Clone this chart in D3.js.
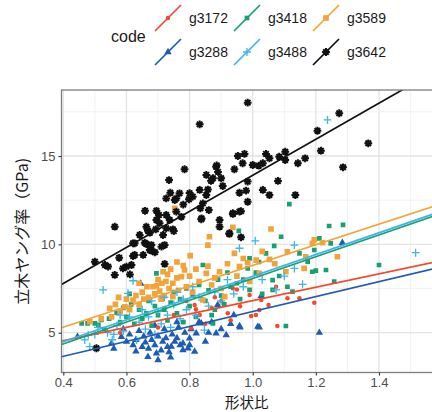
<!DOCTYPE html>
<html lang="ja">
<head>
<meta charset="UTF-8">
<script src="https://cdn.jsdelivr.net/npm/d3@7"></script>
<style>
  body { margin: 0; background: #fff; }
  svg { display: block; font-family: "Liberation Sans", Arial, sans-serif; }
</style>
</head>
<body>
<svg id="chart" width="432" height="412"></svg>
<script>
// groups, in legend order (row by row)
const codes = ["g3172", "g3418", "g3589", "g3288", "g3488", "g3642"];
const colors = ["#f24a2c", "#17a173", "#f2a33a", "#1d5bb5", "#3db5e8", "#111111"];
const shapes = ["circle", "square", "bigsquare", "triangle", "plus", "asterisk"];

// lm fits: y = a + b * x
const fitIntercept = [3.03, 1.90, 2.98, 1.97, 2.03, 3.71];
const fitSlope = [3.79, 6.17, 5.83, 4.23, 6.16, 10.2];

const xTicks = [0.4, 0.6, 0.8, 1.0, 1.2, 1.4];
const yTicks = [5, 10, 15];

// points [形状比, 立木ヤング率]
const ptsG3172 = [[0.58,5.0],[0.65,5.8],[0.70,5.3],[0.75,6.0],[0.78,5.6],[0.805,5.25],[0.816,6.57],[0.82,6.32],
  [0.832,6.0],[0.85,5.5],[0.87,6.4],[0.90,6.8],[0.921,6.1],[0.937,7.51],[0.95,7.45],[0.96,6.5],[0.99,7.13],
  [0.995,5.94],[1.01,6.0],[1.021,6.28],[1.027,6.85],[1.05,6.57],[1.074,7.6],[1.078,5.38],[1.11,6.95],
  [1.148,6.95],[1.195,6.7],[0.88,7.0],[0.72,6.4],[0.79,6.8],[0.93,5.7]];
const ptsG3418 = [[0.458,5.53],[0.477,5.53],[0.50,5.53],[0.511,5.44],[0.521,5.72],[0.53,5.2],[0.545,5.8],[0.569,6.13],
  [0.58,5.6],[0.59,6.4],[0.60,5.9],[0.615,6.6],[0.625,5.5],[0.64,6.3],[0.65,5.8],[0.663,6.1],[0.67,6.8],[0.68,5.4],
  [0.69,6.5],[0.695,8.36],[0.70,6.0],[0.71,7.0],[0.72,6.3],[0.73,5.7],[0.74,6.7],[0.75,7.3],[0.76,6.1],[0.77,6.9],
  [0.78,5.6],[0.79,7.5],[0.80,6.5],[0.81,7.1],[0.82,5.9],[0.83,7.7],[0.842,8.83],[0.85,6.8],[0.86,7.4],[0.874,5.53],
  [0.88,6.3],[0.89,8.0],[0.90,7.1],[0.91,6.6],[0.92,8.4],[0.93,7.6],[0.956,10.76],[0.96,6.9],[0.97,8.0],[0.984,8.64],
  [0.99,9.21],[0.99,7.42],[1.01,8.4],[1.03,7.2],[1.042,9.49],[1.053,14.87],[1.063,7.98],[1.063,7.42],[1.068,9.91],
  [1.084,8.21],[1.09,10.43],[1.105,5.38],[1.11,7.6],[1.126,7.32],[1.116,12.28],[1.148,9.49],[1.174,9.02],[1.189,8.45],
  [1.195,9.68],[1.2,8.51],[1.211,10.34],[1.232,8.55],[1.242,11.04],[1.247,10.06],[1.258,7.89],[1.286,11.1],[1.4,8.83],
  [0.61,7.2],[0.87,6.0],[0.95,7.8],[1.02,9.0]];
const ptsG3589 = [[0.484,5.62],[0.547,6.38],[0.553,5.9],[0.565,6.6],[0.58,6.2],[0.595,6.47],[0.60,6.9],[0.61,6.3],
  [0.621,6.85],[0.63,7.1],[0.64,6.6],[0.65,7.3],[0.655,6.9],[0.665,7.6],[0.67,7.0],[0.684,7.6],[0.69,7.2],[0.695,7.65],
  [0.70,8.0],[0.705,7.35],[0.712,7.8],[0.716,8.45],[0.72,7.1],[0.725,7.9],[0.73,8.3],[0.735,7.5],[0.74,8.6],[0.747,7.8],
  [0.747,7.04],[0.753,12.04],[0.76,8.1],[0.765,7.4],[0.774,8.17],[0.78,8.8],[0.784,8.55],[0.79,7.6],[0.80,8.2],
  [0.802,9.36],[0.81,7.3],[0.82,8.6],[0.83,7.9],[0.842,6.85],[0.853,8.36],[0.858,8.77],[0.858,9.96],[0.863,10.43],
  [0.87,7.7],[0.88,8.1],[0.895,8.45],[0.90,7.5],[0.911,7.04],[0.92,8.9],[0.937,10.96],[0.942,9.49],[0.95,8.2],
  [0.958,8.74],[0.97,9.2],[0.984,8.96],[0.99,7.9],[1.011,9.11],[1.021,8.36],[1.03,9.6],[1.053,9.15],[1.058,10.87],
  [1.07,8.9],[1.105,8.45],[1.11,9.58],[1.163,8.64],[1.168,9.3],[1.189,10.06],[1.195,10.25],[1.221,10.09],[1.268,9.3],
  [0.52,5.8],[0.575,7.0],[0.64,7.8],[0.71,6.9],[0.76,9.0]];
const ptsG3288 = [[0.445,4.77],[0.553,4.4],[0.56,4.1],[0.584,4.77],[0.60,4.5],[0.61,4.9],[0.621,4.3],[0.63,4.6],
  [0.645,7.78],[0.65,4.2],[0.655,4.8],[0.66,4.45],[0.668,3.64],[0.67,4.1],[0.675,5.0],[0.68,4.6],[0.69,4.3],
  [0.695,3.83],[0.70,3.45],[0.70,4.8],[0.71,4.0],[0.715,4.5],[0.72,5.2],[0.725,4.7],[0.73,4.2],[0.735,3.9],
  [0.742,4.21],[0.745,4.9],[0.753,4.49],[0.76,4.7],[0.765,5.3],[0.77,4.3],[0.779,4.4],[0.779,4.02],[0.785,5.0],
  [0.795,4.12],[0.80,4.68],[0.805,5.2],[0.816,3.93],[0.821,4.96],[0.83,5.6],[0.837,5.53],[0.85,4.5],[0.86,5.0],
  [0.87,5.6],[0.884,4.96],[0.889,6.57],[0.90,5.2],[0.916,4.87],[0.93,5.5],[0.94,6.0],[0.958,5.38],[0.96,5.3],
  [1.016,5.34],[1.021,5.3],[1.027,7.08],[1.211,5.0],[1.284,10.09],[0.59,5.2],[0.64,5.1],[0.76,5.6],[0.69,5.4],
  [0.74,3.6],[0.80,4.3],[0.63,3.95]];
const ptsG3488 = [[0.468,4.59],[0.479,4.87],[0.484,4.21],[0.50,4.9],[0.51,5.3],[0.526,7.42],[0.54,5.0],[0.555,4.6],
  [0.57,5.4],[0.58,6.0],[0.59,5.1],[0.605,7.23],[0.621,7.94],[0.632,4.59],[0.64,5.6],[0.65,6.3],[0.66,5.2],[0.67,5.9],
  [0.68,6.8],[0.69,4.9],[0.70,6.2],[0.71,5.5],[0.72,7.0],[0.73,6.0],[0.74,5.3],[0.75,6.6],[0.76,7.3],[0.77,5.8],
  [0.78,6.9],[0.79,6.3],[0.81,7.6],[0.82,6.0],[0.83,7.0],[0.847,5.15],[0.86,6.5],[0.88,7.3],[0.90,6.8],[0.92,8.0],
  [0.94,7.2],[0.958,9.78],[0.97,7.6],[1.008,10.2],[1.03,8.0],[1.074,7.42],[1.10,8.2],[1.132,9.96],[1.132,8.64],
  [1.158,7.74],[1.237,17.04],[1.516,9.53],[0.56,4.9],[0.61,5.9]];
const ptsG3642 = [[0.50,9.02],[0.532,8.83],[0.542,8.74],[0.563,8.27],[0.589,8.64],[0.60,8.74],[0.616,8.83],[0.611,8.3],
  [0.577,9.24],[0.621,9.34],[0.626,9.4],[0.653,9.4],[0.679,9.64],[0.69,9.55],[0.721,8.89],[0.626,10.06],[0.663,10.02],
  [0.679,9.96],[0.721,9.96],[0.674,9.68],[0.711,9.87],[0.505,4.12],[0.563,11.0],[0.663,11.0],[0.705,11.19],
  [0.726,10.91],[0.747,10.85],[0.75,10.75],[0.674,10.66],[0.716,10.53],[0.642,10.53],[0.668,10.77],[0.693,10.85],
  [0.621,10.06],[0.658,10.09],[0.659,11.9],[0.695,11.9],[0.703,11.66],[0.695,11.38],[0.726,11.66],[0.758,11.85],
  [0.774,11.56],[0.737,11.38],[0.834,12.04],[0.861,11.94],[0.838,11.47],[0.895,11.0],[0.895,11.38],[0.937,11.72],
  [0.963,11.88],[0.926,10.59],[0.963,10.4],[0.735,13.64],[0.739,12.92],[0.768,12.89],[0.832,13.08],[0.853,12.79],
  [0.853,13.93],[0.874,13.74],[0.798,12.55],[0.758,12.6],[0.726,12.6],[0.784,14.25],[0.886,14.47],[0.832,16.79],
  [0.80,12.9],[0.753,12.51],[0.78,12.25],[0.81,12.7],[0.842,12.32],[0.837,11.42],[0.937,11.76],[0.958,11.85],
  [0.984,12.41],[0.958,12.92],[0.926,10.63],[0.984,18.02],[1.274,17.42],[1.205,16.43],[1.216,15.3],[1.366,15.72],
  [1.286,14.36],[1.166,14.87],[1.143,14.59],[1.103,15.24],[1.103,14.77],[1.084,14.96],[1.042,15.12],[1.053,14.87],
  [1.032,14.59],[1.0,14.49],[0.968,14.59],[0.953,15.0],[0.974,15.12],[0.942,14.25],[1.019,14.45],[1.080,13.59],
  [0.984,13.55],[0.979,13.04],[1.032,13.08],[1.053,12.79],[1.135,12.79],[0.9,13.74],[0.884,14.39],[0.89,14.1],
  [0.905,13.3],[0.858,13.1],[0.868,13.6]];
const allPts = [ptsG3172, ptsG3418, ptsG3589, ptsG3288, ptsG3488, ptsG3642];

const svg = d3.select("#chart");
const panel = { left: 61.5, right: 434, top: 90, bottom: 372.5 };

const x = d3.scaleLinear().domain([0.4, 1.4]).range([63.3, 379.0]);
const y = d3.scaleLinear().domain([5, 15]).range([332.7, 156.0]);
const xLo = x.invert(panel.left), xHi = x.invert(panel.right);

svg.append("defs").append("clipPath").attr("id", "clip")
  .append("rect").attr("x", panel.left).attr("y", panel.top)
  .attr("width", panel.right - panel.left).attr("height", panel.bottom - panel.top);

// grid
const g = svg.append("g");
const minorX = d3.range(0.5, 1.61, 0.2), minorY = [7.5, 12.5, 17.5];
g.selectAll(".mx").data(minorX).join("line")
  .attr("x1", d => x(d)).attr("x2", d => x(d)).attr("y1", panel.top).attr("y2", panel.bottom)
  .attr("stroke", "#ececec").attr("stroke-width", 0.7);
g.selectAll(".my").data(minorY).join("line")
  .attr("y1", d => y(d)).attr("y2", d => y(d)).attr("x1", panel.left).attr("x2", panel.right)
  .attr("stroke", "#ececec").attr("stroke-width", 0.7);
g.selectAll(".gx").data(xTicks.concat([1.6])).join("line")
  .attr("x1", d => x(d)).attr("x2", d => x(d)).attr("y1", panel.top).attr("y2", panel.bottom)
  .attr("stroke", "#e3e3e3").attr("stroke-width", 1.3);
g.selectAll(".gy").data(yTicks).join("line")
  .attr("y1", d => y(d)).attr("y2", d => y(d)).attr("x1", panel.left).attr("x2", panel.right)
  .attr("stroke", "#e3e3e3").attr("stroke-width", 1.3);

// symbols
function symbolPath(shape) {
  if (shape === "circle") return d3.symbol(d3.symbolCircle, 16)();
  if (shape === "square") return d3.symbol(d3.symbolSquare, 22)();
  if (shape === "bigsquare") return d3.symbol(d3.symbolSquare, 32)();
  if (shape === "triangle") return d3.symbol(d3.symbolTriangle, 24)();
  if (shape === "plus") return "M-4,0H4M0,-4V4";
  const r = 3.9, q = r * 0.707;
  return `M-${r},0H${r}M0,-${r}V${r}M-${q},-${q}L${q},${q}M-${q},${q}L${q},-${q}`;
}
function styleSym(sel, i) {
  const stroked = shapes[i] === "plus" || shapes[i] === "asterisk";
  sel.attr("d", symbolPath(shapes[i]))
    .attr("fill", stroked ? "none" : colors[i])
    .attr("stroke", stroked ? colors[i] : "none")
    .attr("stroke-width", shapes[i] === "asterisk" ? 2 : 1.3);
}

const plot = svg.append("g").attr("clip-path", "url(#clip)");
const drawOrder = [3, 0, 1, 2, 4, 5];
drawOrder.forEach(i => {
  plot.append("g").selectAll("path").data(allPts[i]).join("path")
    .attr("transform", d => `translate(${x(d[0])},${y(d[1])})`)
    .call(styleSym, i);
});

// regression lines over full range
const line = d3.line().x(d => x(d[0])).y(d => y(d[1]));
[0, 3, 1, 4, 2, 5].forEach(i => {
  const ends = [xLo, xHi].map(v => [v, fitIntercept[i] + fitSlope[i] * v]);
  plot.append("path").attr("d", line(ends))
    .attr("fill", "none").attr("stroke", colors[i]).attr("stroke-width", 1.7);
});

// panel border
svg.append("rect").attr("x", panel.left).attr("y", panel.top)
  .attr("width", panel.right - panel.left).attr("height", panel.bottom - panel.top)
  .attr("fill", "none").attr("stroke", "#7d7d7d").attr("stroke-width", 1.3);

// axes
const xAxis = svg.append("g").attr("transform", `translate(0,${panel.bottom})`)
  .call(d3.axisBottom(x).tickValues(xTicks).tickFormat(d3.format(".1f")).tickSize(3).tickPadding(2));
const yAxis = svg.append("g").attr("transform", `translate(${panel.left},0)`)
  .call(d3.axisLeft(y).tickValues(yTicks).tickSize(3).tickPadding(3));
[xAxis, yAxis].forEach(a => {
  a.select(".domain").remove();
  a.selectAll(".tick line").attr("stroke", "#333").attr("stroke-width", 1.1);
  a.selectAll(".tick text").attr("fill", "#4d4d4d").style("font-size", "13px")
    .style("font-family", "'Liberation Sans', Arial, sans-serif");
});

// axis titles
svg.append("text").attr("x", (panel.left + 432) / 2).attr("y", 407.5)
  .attr("text-anchor", "middle").style("font-family", "'Noto Sans CJK JP', sans-serif")
  .style("font-size", "14.5px").attr("fill", "#1a1a1a").text("形状比");
svg.append("text").attr("transform", `translate(28,${(panel.top + panel.bottom) / 2}) rotate(-90)`)
  .attr("text-anchor", "middle").style("font-family", "'Noto Sans CJK JP', sans-serif")
  .style("font-size", "16px").attr("fill", "#1a1a1a").text("立木ヤング率（GPa)");

// legend
const legend = svg.append("g");
legend.append("text").attr("x", 111).attr("y", 42).style("font-size", "16px")
  .attr("fill", "#1a1a1a").text("code");
codes.forEach((c, i) => {
  const cx = [168, 247, 326][i % 3], cy = [18, 52][Math.floor(i / 3)];
  const k = legend.append("g").attr("transform", `translate(${cx},${cy})`);
  k.append("line").attr("x1", -13).attr("y1", 13).attr("x2", 13).attr("y2", -13)
    .attr("stroke", colors[i]).attr("stroke-width", 1.7);
  k.append("path").call(styleSym, i);
  legend.append("text").attr("x", cx + 21).attr("y", cy + 5).style("font-size", "14px")
    .attr("fill", "#1a1a1a").text(c);
});
</script>
</body>
</html>
